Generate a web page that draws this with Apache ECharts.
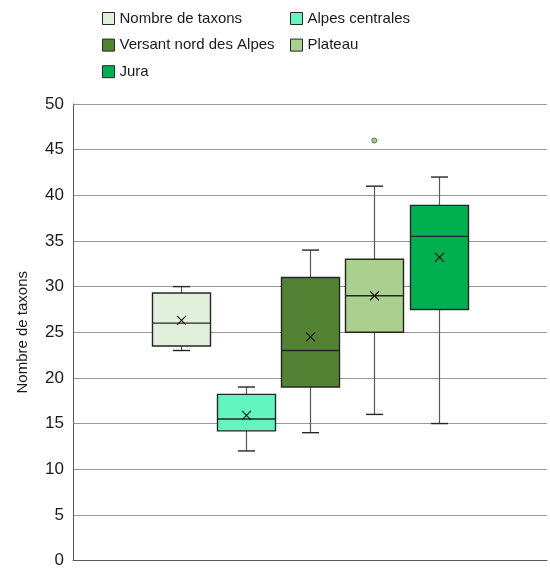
<!DOCTYPE html>
<html>
<head>
<meta charset="utf-8">
<script src="https://cdn.jsdelivr.net/npm/echarts@6/dist/echarts.min.js"></script>
<style>
  html, body { margin: 0; padding: 0; background: #fff; }
  #chart { width: 550px; height: 569px; }
</style>
</head>
<body>
<div id="chart"></div>
<script>
// Groups shown side by side
const groupNames = ['Nombre de taxons', 'Alpes centrales', 'Versant nord des Alpes', 'Plateau', 'Jura'];
// Five-number summaries: [min, Q1, median, Q3, max]
const boxStats = [
  [23, 23.5, 26, 29.3, 30],
  [12, 14.2, 15.5, 18.2, 19],
  [14, 19, 23, 31, 34],
  [16, 25, 29, 33, 41],
  [15, 27.5, 35.5, 38.9, 42]
];
// Mean of each group
const groupMeans = [26.3, 15.9, 24.5, 29, 33.2];
// Outliers: [group index, value]
const outliers = [[3, 46]];
// Y axis ticks
const yMin = 0, yMax = 50, yStep = 5;

const fills = ['#e2efda', '#63f5c0', '#548235', '#a9d08e', '#00b050'];
const boxBorder = '#262626';
const whiskerColor = '#595959';

// Slot spacing on the hidden x axis: one unit per group, centred in the plot
const plotWidth = 474;
const slotPx = 64.3;
const halfSpan = plotWidth / slotPx / 2;
const centre = (groupNames.length - 1) / 2;

const boxPx = 58, capPx = 17, crossPx = 9;

function renderBox(params, api) {
  const x = api.value(0);
  const pMin = api.coord([x, api.value(1)]);
  const pQ1 = api.coord([x, api.value(2)]);
  const pMed = api.coord([x, api.value(3)]);
  const pQ3 = api.coord([x, api.value(4)]);
  const pMax = api.coord([x, api.value(5)]);
  const pMean = api.coord([x, api.value(6)]);
  const cx = Math.round(pMin[0]) + 0.5;
  const hb = boxPx / 2, hc = capPx / 2, hx = crossPx / 2;
  const style = api.style();
  const wStyle = { stroke: whiskerColor, lineWidth: 1.2 };
  const bStyle = { stroke: boxBorder, lineWidth: 1.4 };
  return {
    type: 'group',
    children: [
      { type: 'line', shape: { x1: cx, y1: pMax[1], x2: cx, y2: pQ3[1] }, style: wStyle },
      { type: 'line', shape: { x1: cx, y1: pQ1[1], x2: cx, y2: pMin[1] }, style: wStyle },
      { type: 'line', shape: { x1: cx - hc, y1: pMax[1], x2: cx + hc, y2: pMax[1] }, style: bStyle },
      { type: 'line', shape: { x1: cx - hc, y1: pMin[1], x2: cx + hc, y2: pMin[1] }, style: bStyle },
      { type: 'rect', shape: { x: cx - hb, y: pQ3[1], width: boxPx, height: pQ1[1] - pQ3[1] },
        style: { fill: style.fill, stroke: boxBorder, lineWidth: 1.4 } },
      { type: 'line', shape: { x1: cx - hb, y1: pMed[1], x2: cx + hb, y2: pMed[1] }, style: bStyle },
      { type: 'line', shape: { x1: cx - hx, y1: pMean[1] - hx, x2: cx + hx, y2: pMean[1] + hx }, style: { stroke: '#1a1a1a', lineWidth: 1.2 } },
      { type: 'line', shape: { x1: cx - hx, y1: pMean[1] + hx, x2: cx + hx, y2: pMean[1] - hx }, style: { stroke: '#1a1a1a', lineWidth: 1.2 } }
    ]
  };
}

const boxSeries = groupNames.map((name, i) => ({
  name: name,
  type: 'custom',
  renderItem: renderBox,
  itemStyle: { color: fills[i], borderColor: boxBorder },
  encode: { x: 0, y: [1, 2, 3, 4, 5, 6] },
  data: [[i].concat(boxStats[i], [groupMeans[i]])],
  z: 3
}));

const outlierSeries = {
  type: 'scatter',
  symbol: 'circle',
  symbolSize: 5,
  itemStyle: { color: '#8fc070', borderColor: '#4d4d4d', borderWidth: 1 },
  data: outliers.map(o => [o[0], o[1]]),
  z: 4
};

function legendItem(i) {
  return { name: groupNames[i], icon: 'rect',
    itemStyle: { color: fills[i], borderColor: boxBorder, borderWidth: 1 } };
}
const fontFamily = '"Liberation Sans", Arial, sans-serif';
const legendText = { fontFamily: fontFamily, fontSize: 15, color: '#1a1a1a' };

const chart = echarts.init(document.getElementById('chart'), null, { renderer: 'canvas' });
chart.setOption({
  backgroundColor: '#ffffff',
  animation: false,
  legend: [
    { orient: 'vertical', left: 102, top: 11, itemWidth: 12, itemHeight: 12, itemGap: 11.6,
      data: [0, 2, 4].map(legendItem), textStyle: legendText, selectedMode: false, padding: 0 },
    { orient: 'vertical', left: 290, top: 11, itemWidth: 12, itemHeight: 12, itemGap: 11.6,
      data: [1, 3].map(legendItem), textStyle: legendText, selectedMode: false, padding: 0 }
  ],
  grid: { left: 73, top: 104, width: plotWidth, bottom: 7, containLabel: false },
  xAxis: {
    type: 'value',
    min: centre - halfSpan,
    max: centre + halfSpan,
    axisLine: { show: true, onZero: false, lineStyle: { color: '#5a5a5a', width: 1 } },
    axisTick: { show: false },
    axisLabel: { show: false },
    splitLine: { show: false }
  },
  yAxis: {
    type: 'value',
    min: yMin, max: yMax, interval: yStep,
    name: 'Nombre de taxons',
    nameLocation: 'middle',
    nameGap: 43,
    nameTextStyle: { fontFamily: fontFamily, fontSize: 15, color: '#1a1a1a' },
    axisLine: { show: true, onZero: false, lineStyle: { color: '#5a5a5a', width: 1 } },
    axisTick: { show: false },
    axisLabel: { fontFamily: fontFamily, fontSize: 17, color: '#1a1a1a', margin: 9 },
    splitLine: { show: true, lineStyle: { color: '#999999', width: 1 } }
  },
  series: boxSeries.concat([outlierSeries])
});
</script>
</body>
</html>
